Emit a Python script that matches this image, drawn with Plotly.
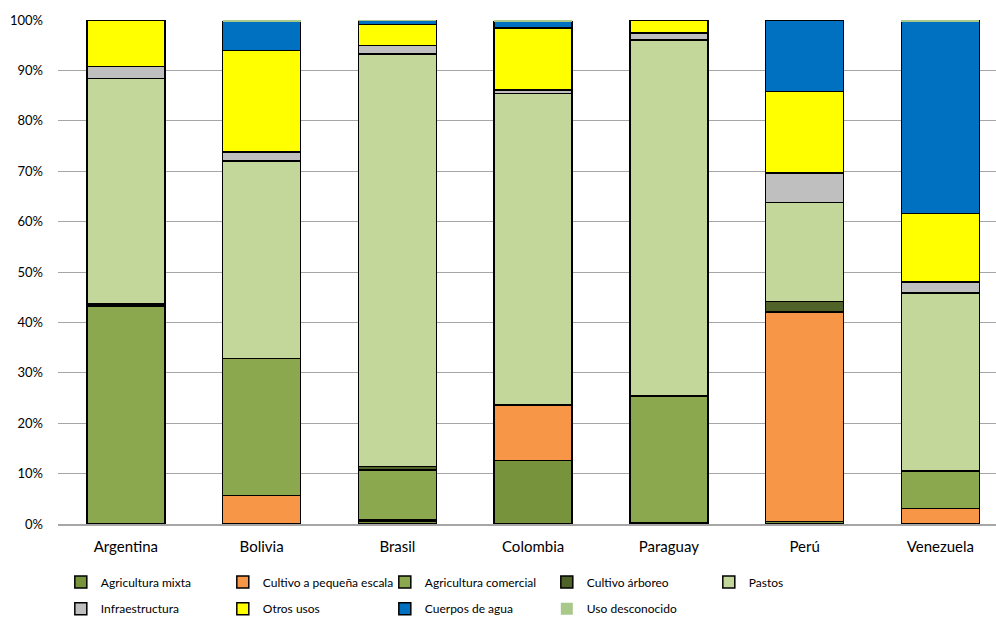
import plotly.graph_objects as go

# Countries on the x axis
paises = ["Argentina", "Bolivia", "Brasil", "Colombia", "Paraguay", "Perú", "Venezuela"]

# Land-use shares (% of area) per country, stacked bottom to top
agricultura_mixta = [0.0, 0.0, 0.6, 12.6, 0.3, 0.5, 0.0]
cultivo_pequena = [0.0, 5.7, 0.2, 11.0, 0.0, 41.6, 3.1]
agricultura_comercial = [43.3, 27.1, 9.9, 0.0, 25.1, 0.0, 7.4]
cultivo_arboreo = [0.4, 0.0, 0.7, 0.0, 0.0, 2.0, 0.0]
pastos = [44.7, 39.2, 81.9, 61.8, 70.6, 19.7, 35.3]
infraestructura = [2.4, 1.8, 1.6, 0.7, 1.4, 5.8, 2.2]
otros_usos = [9.2, 20.1, 4.2, 12.3, 2.6, 16.2, 13.6]
cuerpos_agua = [0.0, 5.8, 0.8, 1.3, 0.0, 14.2, 38.2]
uso_desconocido = [0.0, 0.3, 0.1, 0.3, 0.0, 0.0, 0.2]

y_ticks = [0, 10, 20, 30, 40, 50, 60, 70, 80, 90, 100]

# (name, values, fill, outline width, legend row)
series = [
    ("Agricultura mixta", agricultura_mixta, "#77933C", 1.5, "legend"),
    ("Cultivo a pequeña escala", cultivo_pequena, "#F79646", 1.5, "legend"),
    ("Agricultura comercial", agricultura_comercial, "#8BA84F", 1.5, "legend"),
    ("Cultivo árboreo", cultivo_arboreo, "#4F6228", 1.5, "legend"),
    ("Pastos", pastos, "#C4D79B", 1.5, "legend"),
    ("Infraestructura", infraestructura, "#BFBFBF", 1.5, "legend2"),
    ("Otros usos", otros_usos, "#FFFF00", 1.5, "legend2"),
    ("Cuerpos de agua", cuerpos_agua, "#0070C0", 1.5, "legend2"),
    ("Uso desconocido", uso_desconocido, "#A9C98A", 0, "legend2"),
]

fig = go.Figure()
for name, vals, color, lw, leg in series:
    fig.add_trace(go.Bar(
        x=paises, y=vals, name=name, legend=leg,
        marker=dict(color=color, line=dict(color="#000000", width=lw)),
    ))

legend_common = dict(
    orientation="h",
    x=0.003, xanchor="left",
    yanchor="middle",
    entrywidth=117, entrywidthmode="pixels",
    font=dict(size=12, color="#000000"),
    traceorder="normal",
    itemwidth=30,
    bgcolor="rgba(0,0,0,0)",
)

fig.update_layout(
    barmode="stack",
    bargap=0.425,
    width=996, height=618,
    margin=dict(l=58, r=0, t=20, b=94, autoexpand=False),
    plot_bgcolor="white",
    paper_bgcolor="white",
    font=dict(family="Lato, 'Open Sans', sans-serif", color="#000000"),
    legend=dict(legend_common, y=-0.115),
    legend2=dict(legend_common, y=-0.168),
    showlegend=True,
)

fig.update_xaxes(
    range=[-0.5, 6.41],
    showline=True, linecolor="#A6A6A6", linewidth=1.5,
    ticks="", tickfont=dict(size=15),
    ticklabelstandoff=8,
    showgrid=False,
)
fig.update_yaxes(
    range=[0, 100],
    tickvals=y_ticks,
    ticktext=[f"{v}%" for v in y_ticks],
    tickfont=dict(size=13),
    ticklabelstandoff=14,
    showgrid=True, gridcolor="#A6A6A6", gridwidth=1.2,
    zeroline=False, showline=False, ticks="",
)

fig.write_html("out.html")
